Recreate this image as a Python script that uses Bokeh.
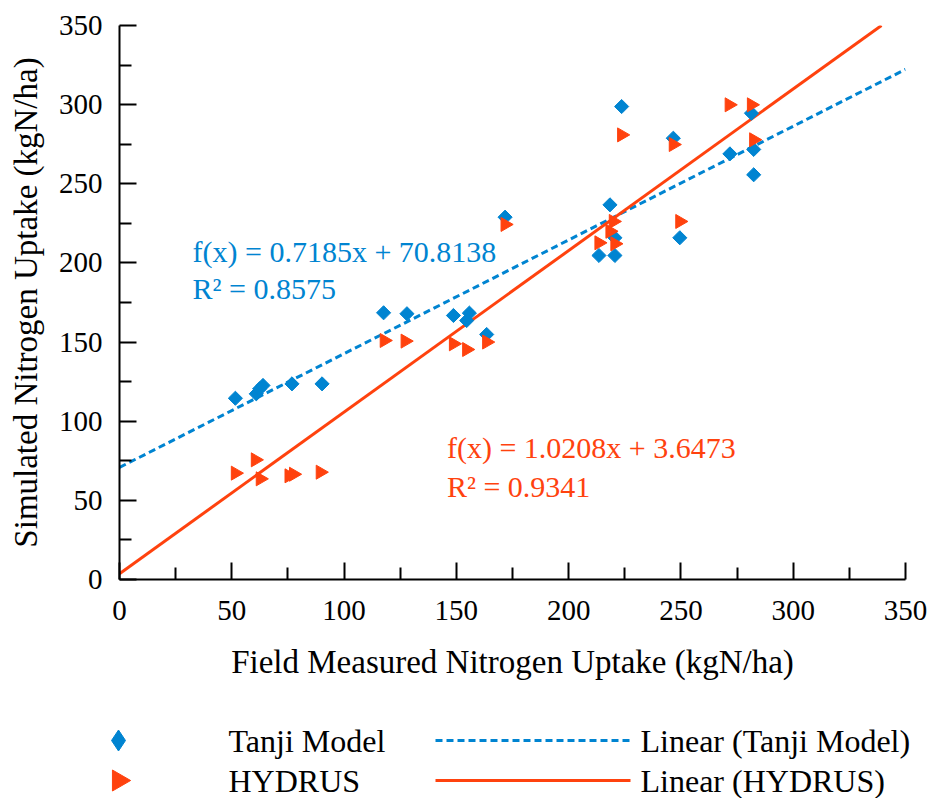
import numpy as np
from bokeh.plotting import figure
from bokeh.models import Range1d, Label, FixedTicker
from bokeh.layouts import column
from bokeh.embed import file_html
from bokeh.resources import INLINE

# ---------------- data ----------------
tanji_x = [51.6, 60.9, 62.4, 63.9, 76.8, 90.2, 117.6, 128.0, 148.7, 155.8, 154.6, 163.5,
           171.7, 213.5, 218.4, 220.6, 220.6, 223.6, 246.6, 249.5, 271.8, 281.4, 282.4, 282.4]
tanji_y = [114.5, 117.3, 120.5, 122.6, 123.6, 123.6, 168.5, 167.9, 166.8, 168.3, 163.6, 154.8,
           228.9, 204.7, 236.7, 215.9, 204.7, 298.8, 278.8, 215.9, 268.9, 294.6, 271.7, 255.7]

hydrus_x = [51.6, 60.5, 62.7, 75.5, 77.5, 89.4, 117.9, 127.2, 148.7, 154.6, 163.5,
            171.7, 213.5, 218.4, 219.9, 220.6, 223.6, 246.6, 249.5, 271.5, 281.4, 282.4]
hydrus_y = [67.2, 75.6, 63.6, 65.5, 66.5, 67.8, 151.0, 150.6, 148.9, 145.3, 150.0,
            224.3, 212.7, 220.0, 226.2, 212.1, 280.9, 274.8, 226.2, 299.9, 299.9, 277.8]

fit_names = ["Tanji Model", "HYDRUS"]
fit_slope = [0.7185, 1.0208]
fit_intercept = [70.8138, 3.6473]
fit_r2 = [0.8575, 0.9341]

ticks = [0, 50, 100, 150, 200, 250, 300, 350]
minor = [25, 75, 125, 175, 225, 275, 325]

BLUE = "#0084d1"
ORANGE = "#ff420e"
FONT = "Liberation Serif"
W = 930

# ---------------- main figure ----------------
p = figure(width=W, height=696, x_range=Range1d(0, 350), y_range=Range1d(0, 350),
           output_backend="svg", toolbar_location=None,
           min_border_left=119, min_border_right=W - 905, min_border_top=25,
           min_border_bottom=117)
p.frame_align = False
p.outline_line_color = None
p.xgrid.visible = False
p.ygrid.visible = False

p.xaxis.axis_label = "Field Measured Nitrogen Uptake (kgN/ha)"
p.yaxis.axis_label = "Simulated Nitrogen Uptake (kgN/ha)"
for ax in (p.xaxis[0], p.yaxis[0]):
    ax.ticker = FixedTicker(ticks=ticks, minor_ticks=minor)
    ax.axis_line_width = 2
    ax.axis_line_color = "black"
    ax.major_tick_line_width = 2
    ax.minor_tick_line_width = 2
    ax.major_tick_line_color = "black"
    ax.minor_tick_line_color = "black"
    ax.major_tick_in = 17
    ax.major_tick_out = 0
    ax.minor_tick_in = 12
    ax.minor_tick_out = 0
    ax.major_label_text_font = FONT
    ax.major_label_text_font_size = "29px"
    ax.major_label_text_color = "black"
    ax.axis_label_text_font = FONT
    ax.axis_label_text_font_size = "33px"
    ax.axis_label_text_font_style = "normal"
    ax.axis_label_text_color = "black"
p.xaxis.major_label_standoff = 21
p.yaxis.major_label_standoff = 17
p.xaxis.axis_label_standoff = 21
p.yaxis.axis_label_standoff = 12

# trend lines
colors = [BLUE, ORANGE]
dashes = ["7 4", "solid"]
for m, b, c, d in zip(fit_slope, fit_intercept, colors, dashes):
    x_end = min(350.0, (350.0 - b) / m)
    xs = np.array([0.0, x_end])
    p.line(xs, m * xs + b, line_color=c, line_width=3, line_dash=d)

p.scatter(tanji_x, tanji_y, marker="square", angle=np.pi / 4, size=10,
          fill_color=BLUE, line_color=BLUE)
p.scatter(hydrus_x, hydrus_y, marker="triangle", angle=-np.pi / 2, size=14,
          fill_color=ORANGE, line_color=ORANGE)

# equation labels
eq_pos = [(32.5, 207.3, 183.9), (145.8, 83.4, 59.0)]
for (lx, ly1, ly2), m, b, r2, c in zip(eq_pos, fit_slope, fit_intercept, fit_r2, colors):
    p.add_layout(Label(x=lx, y=ly1, text=f"f(x) = {m:.4f}x + {b:.4f}", text_font=FONT,
                       text_font_size="30px", text_color=c, text_baseline="alphabetic"))
    p.add_layout(Label(x=lx, y=ly2, text=f"R² = {r2:.4f}", text_font=FONT,
                       text_font_size="30px", text_color=c, text_baseline="alphabetic"))

# ---------------- legend figure ----------------
LH = 102
lg = figure(width=W, height=LH, x_range=Range1d(0, W), y_range=Range1d(0, LH),
            output_backend="svg", toolbar_location=None, min_border=0,
            x_axis_type=None, y_axis_type=None)
lg.frame_align = False
lg.grid.visible = False
lg.outline_line_color = None

row_top = [44, 84]             # row centres, measured from the top of the legend strip
row_y = [LH - t for t in row_top]
lg.scatter([118], [row_y[0]], marker="diamond", size=21, fill_color=BLUE, line_color=BLUE)
lg.scatter([118], [row_y[1]], marker="triangle", angle=-np.pi / 2, size=21,
           fill_color=ORANGE, line_color=ORANGE)
for yy, name, c, d in zip(row_y, fit_names, colors, dashes):
    lg.line([435, 630], [yy, yy], line_color=c, line_width=3, line_dash=d)
    lg.add_layout(Label(x=228, y=yy, text=name, text_font=FONT, text_font_size="32px",
                        text_color="black", text_baseline="alphabetic"))
    lg.add_layout(Label(x=640, y=yy, text=f"Linear ({name})", text_font=FONT,
                        text_font_size="32px", text_color="black", text_baseline="alphabetic"))

layout = column(p, lg, spacing=0)
open("out.html", "w").write(file_html(layout, INLINE))
